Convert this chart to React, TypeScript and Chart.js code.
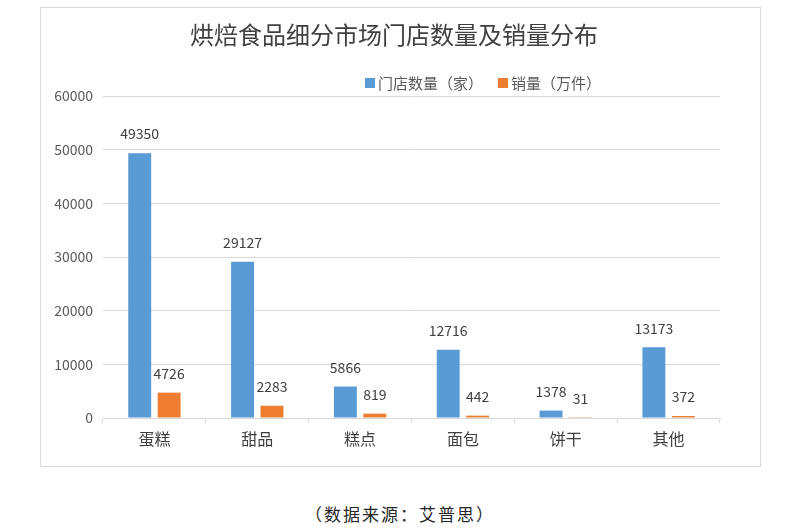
import React, { useEffect, useRef } from "react";
import { Chart, registerables } from "chart.js";

Chart.register(...registerables);

const title = "烘焙食品细分市场门店数量及销量分布";
const categories = ["蛋糕", "甜品", "糕点", "面包", "饼干", "其他"];
const storeLabel = "门店数量（家）";
const salesLabel = "销量（万件）";
const storeCounts = [49350, 29127, 5866, 12716, 1378, 13173];
const salesVolumes = [4726, 2283, 819, 442, 31, 372];
const sourceText = "（数据来源：艾普思）";

const BLUE = "#5B9BD5";
const ORANGE = "#ED7D31";
const FONT = "'Noto Sans CJK SC', 'Noto Sans', sans-serif";

const decorPlugin = {
  id: "decor",
  afterDraw(chart: any) {
    const ctx = chart.ctx;
    ctx.save();
    // title
    ctx.fillStyle = "#404040";
    ctx.font = `24px ${FONT}`;
    ctx.textAlign = "center";
    ctx.textBaseline = "middle";
    ctx.fillText(title, 353, 27);
    // legend
    ctx.font = `15px ${FONT}`;
    ctx.textAlign = "left";
    let x = 324;
    const y = 75;
    const items = [
      { label: storeLabel, color: BLUE },
      { label: salesLabel, color: ORANGE },
    ];
    for (const it of items) {
      ctx.fillStyle = it.color;
      ctx.fillRect(x, y - 5, 10, 10);
      x += 13;
      ctx.fillStyle = "#595959";
      ctx.fillText(it.label, x, y);
      x += ctx.measureText(it.label).width + 15;
    }
    // data labels
    ctx.font = `14px ${FONT}`;
    ctx.textAlign = "center";
    ctx.fillStyle = "#404040";
    chart.data.datasets.forEach((ds: any, i: number) => {
      const meta = chart.getDatasetMeta(i);
      meta.data.forEach((el: any, j: number) => {
        ctx.fillText(String(ds.data[j]), el.x, el.y - 19);
      });
    });
    ctx.restore();
  },
};

export default function App() {
  const ref = useRef<HTMLCanvasElement>(null);
  useEffect(() => {
    if (!ref.current) return;
    const chart = new Chart(ref.current, {
      type: "bar",
      data: {
        labels: categories,
        datasets: [
          {
            label: storeLabel,
            data: storeCounts,
            backgroundColor: BLUE,
            categoryPercentage: 0.572,
            barPercentage: 0.78,
          },
          {
            label: salesLabel,
            data: salesVolumes,
            backgroundColor: ORANGE,
            categoryPercentage: 0.572,
            barPercentage: 0.78,
          },
        ],
      },
      options: {
        animation: false,
        responsive: false,
        maintainAspectRatio: false,
        layout: { padding: { top: 88, right: 40, left: 0, bottom: 0 } },
        plugins: {
          legend: { display: false },
          title: { display: false },
          tooltip: { enabled: false },
        },
        scales: {
          x: {
            grid: {
              display: true,
              drawOnChartArea: false,
              drawTicks: true,
              tickLength: 5,
              color: "#d9d9d9",
              offset: true,
            },
            border: { display: true, color: "#d9d9d9" },
            ticks: {
              color: "#404040",
              font: { family: FONT, size: 16 },
              padding: 6,
            },
            afterFit(scale: any) {
              scale.height = 48;
            },
          },
          y: {
            min: 0,
            max: 60000,
            ticks: {
              stepSize: 10000,
              color: "#595959",
              font: { family: FONT, size: 14 },
              padding: 10,
              callback: (v: any) => String(v),
            },
            grid: { color: "#d9d9d9", drawTicks: false },
            border: { display: false },
            afterFit(scale: any) {
              scale.width = 62;
            },
          },
        },
      },
      plugins: [decorPlugin],
    });
    return () => chart.destroy();
  }, []);

  return (
    <div
      style={{
        position: "fixed",
        left: 0,
        top: 0,
        width: 800,
        height: 528,
        background: "#fff",
        fontFamily: FONT,
      }}
    >
      <div
        style={{
          position: "absolute",
          left: 40,
          top: 7,
          width: 721,
          height: 460,
          boxSizing: "border-box",
          border: "1px solid #d9d9d9",
        }}
      >
        <canvas ref={ref} width={719} height={458} style={{ display: "block" }} />
      </div>
      <div
        style={{
          position: "absolute",
          left: 0,
          width: 800,
          top: 502,
          textAlign: "center",
          fontSize: 17,
          letterSpacing: 2,
          color: "#262626",
          lineHeight: "24px",
          boxSizing: "border-box",
        }}
      >
        {sourceText}
      </div>
    </div>
  );
}
